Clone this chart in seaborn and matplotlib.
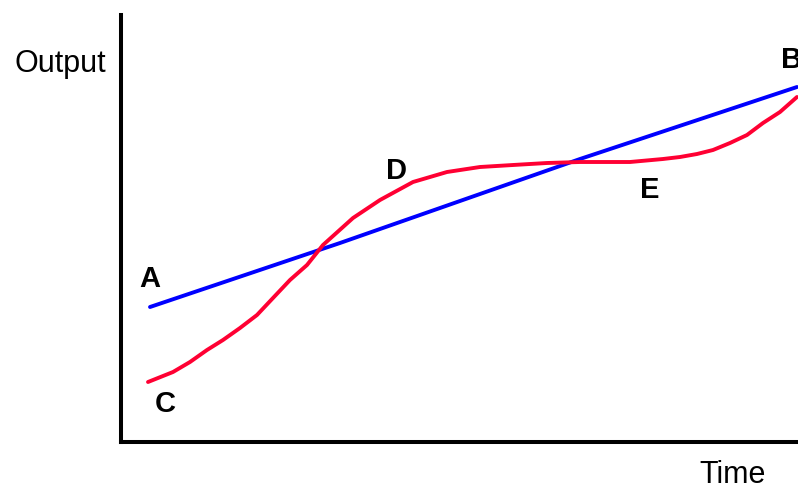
import matplotlib
matplotlib.use("Agg")
import matplotlib.pyplot as plt
import seaborn as sns

sns.set_theme(style="white")
plt.rcParams['font.family'] = ['Liberation Sans', 'DejaVu Sans']

# Time / Output values (arbitrary units)
blue_time = [29, 219, 459, 676]
blue_output = [135, 199, 283, 355]

red_time = [27, 52, 69, 86, 102, 119, 136, 152, 169, 186, 202, 232, 259, 292, 326,
            359, 392, 426, 459, 509, 542, 559, 576, 592, 609, 626, 642, 659, 676]
red_output = [60, 70, 80, 92, 102, 114, 127, 144, 162, 177, 197, 224, 242, 260, 270,
              275, 277, 279, 280, 280, 283, 285, 288, 292, 299, 307, 319, 330, 345]

point_labels = ["A", "B", "C", "D", "E"]
label_time = [29, 660, 44, 276, 529]
label_output = [163, 382, 38, 271, 252]

fig = plt.figure(figsize=(7.98, 4.95), dpi=100)
ax = fig.add_axes([121/798, 53/495, 677/798, 427/495])

sns.lineplot(x=blue_time, y=blue_output, color="#0000FF", lw=2.8, ax=ax, sort=False)
sns.lineplot(x=red_time, y=red_output, color="#FF0033", lw=2.8, ax=ax, sort=False)

ax.set_xlim(0, 677)
ax.set_ylim(0, 427)
ax.set_xticks([])
ax.set_yticks([])
for s in ["top", "right"]:
    ax.spines[s].set_visible(False)
for s in ["left", "bottom"]:
    ax.spines[s].set_color("black")
    ax.spines[s].set_linewidth(2.9)

for lab, t, o in zip(point_labels, label_time, label_output):
    ha = "left" if lab == "B" else "center"
    ax.text(t, o, lab, fontsize=21, fontweight="bold", ha=ha, va="center",
            color="black", clip_on=False)

fig.text(60/798, 1 - 72/495, "Output", fontsize=22, ha="center", va="baseline", color="black")
fig.text(733/798, 1 - 483/495, "Time", fontsize=22, ha="center", va="baseline", color="black")

fig.savefig("out.png", dpi=100, facecolor="white")
